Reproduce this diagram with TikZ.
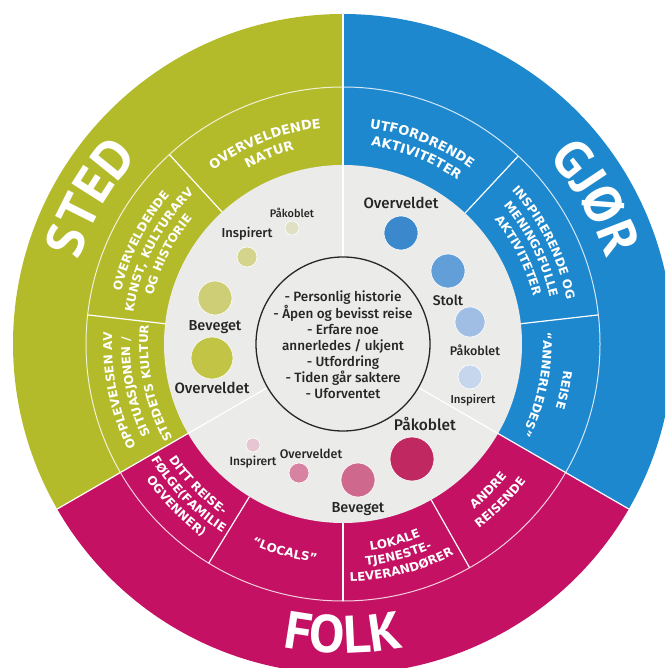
\documentclass[tikz,border=0pt]{standalone}
\usepackage{fontspec}
\usetikzlibrary{positioning,decorations.text}
\setsansfont{Fira Sans Medium}
\newfontfamily\segfamily{DejaVu Sans}
\newfontfamily\bigfamily{PT Sans}
\definecolor{sted}{RGB}{180,187,43}
\definecolor{gjor}{RGB}{30,136,207}
\definecolor{folk}{RGB}{196,17,99}
\definecolor{disc}{RGB}{235,235,234}
\definecolor{ink}{RGB}{38,38,38}
% bubble colours
\definecolor{stedP}{RGB}{224,224,196}
\definecolor{stedI}{RGB}{212,212,140}
\definecolor{stedB}{RGB}{205,206,118}
\definecolor{stedO}{RGB}{193,196,68}
\definecolor{gjorO}{RGB}{60,136,204}
\definecolor{gjorS}{RGB}{98,158,216}
\definecolor{gjorP}{RGB}{160,190,228}
\definecolor{gjorI}{RGB}{198,214,236}
\definecolor{folkP}{RGB}{192,40,98}
\definecolor{folkB}{RGB}{206,104,140}
\definecolor{folkO}{RGB}{214,130,160}
\definecolor{folkI}{RGB}{230,198,210}
\newcommand\segfont[1]{\segfamily\bfseries\fontsize{#1}{#1}\selectfont\color{white}}
\newcommand\bigfont{\bigfamily\bfseries\fontsize{53}{53}\selectfont\color{white}}
\tikzset{
	bubble/.style={circle, fill=#1, draw=white, line width=0.6pt, inner sep=0pt},
	lbl/.style={font=\sffamily\fontsize{#1}{#1}\selectfont, text=ink, inner sep=0pt},
	seg/.style 2 args={decorate, decoration={text along path, text align=center, text={|\segfont{#1}|#2}}},
	big/.style={decorate, decoration={text along path, text align=center, text={|\bigfont|#1}}},
	divider/.style={white, line width=1.2pt},
	rim/.style={white, opacity=0.8, line width=1pt}
}
\begin{document}
\begin{tikzpicture}[x=1pt, y=1pt]
	\useasboundingbox (-343,-324) rectangle (322,344);
	\clip (-343,-324) rectangle (322,344);
% the three sectors
\fill[sted] (0,0) -- (90:330) arc[start angle=90, end angle=210, radius=330] -- cycle;
\fill[gjor] (0,0) -- (-30:330) arc[start angle=-30, end angle=90, radius=330] -- cycle;
\fill[folk] (0,0) -- (210:330) arc[start angle=210, end angle=330, radius=330] -- cycle;
\fill[disc] (0,0) circle[radius=179];
	\draw[rim] (0,0) circle[radius=257];
	% dividers
	\draw[divider] (90:87) -- (90:330);
	\draw[divider] (210:87) -- (210:330);
	\draw[divider] (330:87) -- (330:330);
	\draw[divider] (132.5:179) -- (132.5:257);
	\draw[divider] (173.5:179) -- (173.5:257);
	\draw[divider] (47:179) -- (47:257);
	\draw[divider] (6.5:179) -- (6.5:257);
	\draw[divider] (238.5:179) -- (238.5:257);
	\draw[divider] (270:179) -- (270:257);
	\draw[divider] (299.5:179) -- (299.5:257);
	% big words
	\path[big={STED}] (180:277) arc[start angle=180, end angle=120, radius=277];
	\path[big={GJØR}] (60:277) arc[start angle=60, end angle=0, radius=277];
	\path[big={FOLK}] (240:309) arc[start angle=240, end angle=300, radius=309];
	% sted segments
	\path[seg={13}{OVERVELDENDE}] (132.5:217) arc[start angle=132.5, end angle=90, radius=217];
	\path[seg={13}{NATUR}] (132.5:200) arc[start angle=132.5, end angle=90, radius=200];
	\path[seg={12}{OVERVELDENDE}] (173.5:228) arc[start angle=173.5, end angle=132.5, radius=228];
	\path[seg={12}{KUNST, KULTURARV}] (173.5:212) arc[start angle=173.5, end angle=132.5, radius=212];
	\path[seg={12}{OG HISTORIE}] (173.5:196) arc[start angle=173.5, end angle=132.5, radius=196];
	\path[seg={12}{OPPLEVELSEN AV}] (210:231) arc[start angle=210, end angle=173.5, radius=231];
	\path[seg={12}{SITUASJONEN /}] (210:213) arc[start angle=210, end angle=173.5, radius=213];
	\path[seg={12}{STEDETS KULTUR}] (210:195) arc[start angle=210, end angle=173.5, radius=195];
	% gjor segments
	\path[seg={13}{UTFORDRENDE}] (90:217) arc[start angle=90, end angle=47, radius=217];
	\path[seg={13}{AKTIVITETER}] (90:200) arc[start angle=90, end angle=47, radius=200];
	\path[seg={12}{INSPIRERENDE OG}] (47:228) arc[start angle=47, end angle=6.5, radius=228];
	\path[seg={12}{MENINGSFULLE}] (47:212) arc[start angle=47, end angle=6.5, radius=212];
	\path[seg={12}{AKTIVITETER}] (47:196) arc[start angle=47, end angle=6.5, radius=196];
	\path[seg={12}{REISE}] (6.5:222) arc[start angle=6.5, end angle=-30, radius=222];
	\path[seg={12}{“ANNERLEDES”}] (6.5:200) arc[start angle=6.5, end angle=-30, radius=200];
	% folk segments
	\path[seg={12}{DITT REISE-}] (210:209) arc[start angle=210, end angle=238.5, radius=209];
	\path[seg={12}{FØLGE(FAMILIE}] (210:224) arc[start angle=210, end angle=238.5, radius=224];
	\path[seg={12}{OGVENNER)}] (210:239) arc[start angle=210, end angle=238.5, radius=239];
	\path[seg={12}{“LOCALS”}] (238.5:220) arc[start angle=238.5, end angle=270, radius=220];
	\path[seg={12}{LOKALE}] (270:208) arc[start angle=270, end angle=299.5, radius=208];
	\path[seg={12}{TJENESTE-}] (270:223) arc[start angle=270, end angle=299.5, radius=223];
	\path[seg={12}{LEVERANDØRER}] (270:238) arc[start angle=270, end angle=299.5, radius=238];
	\path[seg={12}{ANDRE}] (299.5:211) arc[start angle=299.5, end angle=330, radius=211];
	\path[seg={12}{REISENDE}] (299.5:229) arc[start angle=299.5, end angle=330, radius=229];
	% centre
	\node[circle, draw=ink, line width=1.3pt, fill=disc, minimum size=174pt] (core) at (0,0) {};
	\node[lbl=13.5, align=center, font=\sffamily\fontsize{13.5}{16}\selectfont] (story) at (0,-1)
		{- Personlig historie\\- Åpen og bevisst reise\\- Erfare noe\\annerledes / ukjent\\- Utfordring\\- Tiden går saktere\\- Uforventet};
	% sted bubbles
	\node[bubble=stedP, minimum size=14pt] (sP) at (-51,116) {};
	\node[bubble=stedI, minimum size=20pt] (sI) at (-96,87) {};
	\node[bubble=stedB, minimum size=34pt] (sB) at (-128,46) {};
	\node[bubble=stedO, minimum size=42pt] (sO) at (-131,-14) {};
	\node[lbl=11, above=3pt of sP] (sPl) {Påkoblet};
	\node[lbl=13, above=6pt of sI] (sIl) {Inspirert};
	\node[lbl=14.5, below=5pt of sB] (sBl) {Beveget};
	\node[lbl=15, below=3pt of sO] (sOl) {Overveldet};
	% gjor bubbles
	\node[bubble=gjorO, minimum size=34pt] (gO) at (58,111) {};
	\node[bubble=gjorS, minimum size=34pt] (gS) at (105,73) {};
	\node[bubble=gjorP, minimum size=30pt] (gP) at (127,22) {};
	\node[bubble=gjorI, minimum size=24pt] (gI) at (127,-33) {};
	\node[lbl=15, above=7pt of gO] (gOl) {Overveldet};
	\node[lbl=14, below=6pt of gS] (gSl) {Stolt};
	\node[lbl=12.5, below=7pt of gP, xshift=5pt] (gPl) {Påkoblet};
	\node[lbl=11.5, below=5pt of gI, xshift=3pt] (gIl) {Inspirert};
	% folk bubbles
	\node[bubble=folkP, minimum size=44pt] (fP) at (69,-115) {};
	\node[bubble=folkB, minimum size=34pt] (fB) at (15,-136) {};
	\node[bubble=folkO, minimum size=20pt] (fO) at (-44,-129) {};
	\node[bubble=folkI, minimum size=14pt] (fI) at (-90,-101) {};
	\node[lbl=15.5, above=6pt of fP, xshift=13pt] (fPl) {Påkoblet};
	\node[lbl=14.5, below=5pt of fB] (fBl) {Beveget};
	\node[lbl=12.5, above=4pt of fO, xshift=12pt] (fOl) {Overveldet};
	\node[lbl=12, below=3pt of fI] (fIl) {Inspirert};
\end{tikzpicture}
\end{document}
